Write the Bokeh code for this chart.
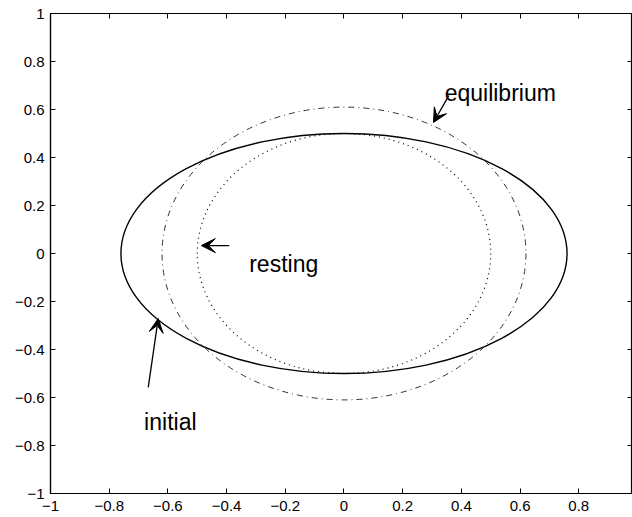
from bokeh.plotting import figure
from bokeh.models import (ColumnDataSource, Arrow, VeeHead, LinearAxis, FixedTicker,
                          Range1d, CustomJSTickFormatter)
from bokeh.core.properties import value
from bokeh.embed import file_html
from bokeh.resources import INLINE

# ---- data ----
tick_values = [-1.0, -0.8, -0.6, -0.4, -0.2, 0.0, 0.2, 0.4, 0.6, 0.8, 1.0]

shape_names = ["initial", "equilibrium", "resting"]
center_x = [0.0, 0.0, 0.0]
center_y = [0.0, 0.0, 0.0]
axis_x = [1.52, 1.24, 1.0]   # full width of each ellipse
axis_y = [1.0, 1.22, 1.0]    # full height of each ellipse

label_text = ["equilibrium", "resting", "initial"]
label_x = [0.343, -0.323, -0.681]
label_y = [0.667, -0.042, -0.704]

arrow_x_start = [0.357, -0.391, -0.667]
arrow_y_start = [0.658, 0.033, -0.558]
arrow_x_end = [0.305, -0.486, -0.633]
arrow_y_end = [0.546, 0.033, -0.271]

FONT = "Liberation Sans"

p = figure(width=632, height=517, output_backend="svg", toolbar_location=None,
           x_range=Range1d(-1.0, 0.983), y_range=Range1d(-1.0, 1.0),
           x_axis_location=None, y_axis_location=None,
           min_border_left=50, min_border_right=0, min_border_top=13, min_border_bottom=24)
p.grid.visible = False
p.outline_line_color = "black"
p.outline_line_width = 1.2
p.background_fill_color = "white"
p.border_fill_color = "white"

fmt = CustomJSTickFormatter(code="""
var s = (Math.round(tick*10)/10).toString();
return s.replace('-', '\u2212');
""")

def make_axis(show_labels):
    ax = LinearAxis(ticker=FixedTicker(ticks=tick_values), formatter=fmt)
    ax.major_tick_in = 5
    ax.major_tick_out = 0
    ax.minor_tick_in = 0
    ax.minor_tick_out = 0
    ax.axis_line_color = "black"
    ax.axis_line_width = 1.2
    ax.major_tick_line_color = "black"
    ax.major_label_text_font = FONT
    ax.major_label_text_font_size = "15px"
    if show_labels:
        ax.major_label_text_color = "black"
    else:
        ax.major_label_text_color = None
        ax.major_label_standoff = 0
    return ax

left = make_axis(True)
left.major_label_standoff = 6
bottom = make_axis(True)
bottom.major_label_standoff = 7
top = make_axis(False)
right = make_axis(False)
p.add_layout(left, "left")
p.add_layout(bottom, "below")
p.add_layout(top, "above")
p.add_layout(right, "right")

# initial: solid
p.ellipse(x=[center_x[0]], y=[center_y[0]], width=[axis_x[0]], height=[axis_y[0]],
          fill_color=None, line_color="black", line_width=1.4)
# equilibrium: dash-dot
p.ellipse(x=[center_x[1]], y=[center_y[1]], width=[axis_x[1]], height=[axis_y[1]],
          fill_color=None, line_color="#333333", line_width=1.0, line_dash="6 4 1 4")
# resting: dotted
p.ellipse(x=[center_x[2]], y=[center_y[2]], width=[axis_x[2]], height=[axis_y[2]],
          fill_color=None, line_color="black", line_width=1.2, line_dash="1 4")

tsrc = ColumnDataSource(dict(x=label_x, y=label_y, t=label_text))
p.text(x="x", y="y", text="t", source=tsrc, text_font=value(FONT),
       text_font_size="23px", text_color="black",
       text_align="left", text_baseline="alphabetic")

asrc = ColumnDataSource(dict(x0=arrow_x_start, y0=arrow_y_start,
                             x1=arrow_x_end, y1=arrow_y_end))
p.add_layout(Arrow(end=VeeHead(size=14, fill_color="black", line_color="black"),
                   x_start="x0", y_start="y0", x_end="x1", y_end="y1",
                   source=asrc, line_color="black", line_width=1.3))

open("out.html", "w").write(file_html(p, INLINE))
